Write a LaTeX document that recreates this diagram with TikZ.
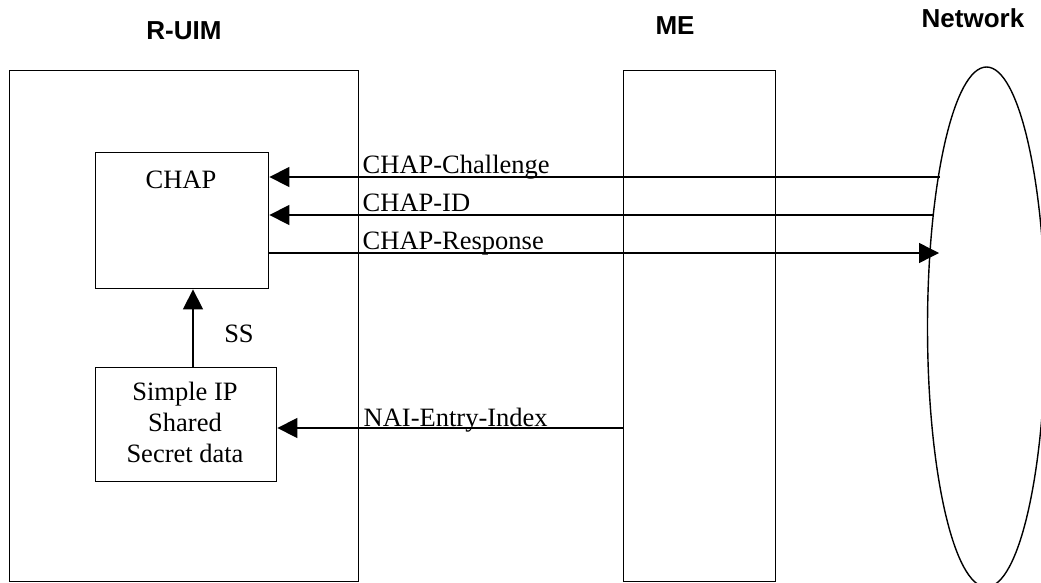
\documentclass[tikz,border=0pt]{standalone}
\usepackage{fontspec}
\setmainfont{Liberation Serif}
\newfontfamily\arialfont{Liberation Sans}
\usetikzlibrary{arrows.meta}
\begin{document}
\begin{tikzpicture}[x=1pt,y=-1pt, line width=1.4pt,
  box/.style={draw, inner sep=0pt, anchor=north west},
  lbl/.style={font=\fontsize{26.5}{31}\selectfont, inner sep=0pt},
  ttl/.style={font=\arialfont\bfseries\fontsize{26}{31}\selectfont, inner sep=0pt, anchor=base},
  arr/.style={-{Triangle[length=20pt,width=20pt]}}]
\useasboundingbox (0,0) rectangle (1041,583);
\clip (0,0) rectangle (1041,583);
% titles
\node[ttl] (truim) at (184,40) {R-UIM};
\node[ttl] (tme) at (675,35) {ME};
\node[ttl] (tnet) at (973,28) {Network};
% main boxes
\node[box, minimum width=349pt, minimum height=511pt] (ruim) at (9,70) {};
\node[box, minimum width=152pt, minimum height=511pt] (me) at (623,70) {};
\coordinate (netc) at (986.5,327);
\draw (netc) ellipse [x radius=59pt, y radius=260pt];
% inner boxes
\node[box, minimum width=173pt, minimum height=136pt] (chap) at (95,152) {};
\node[lbl, anchor=base] (chaptxt) at (181,188) {CHAP};
\node[box, minimum width=181pt, minimum height=114pt] (sip) at (95,367) {};
\node[lbl, anchor=base, align=center] (siptxt) at (185,462.7) {Simple IP\\Shared\\Secret data};
% connector ends
\coordinate (chl) at (940,177);
\coordinate (idr) at (934,215);
\coordinate (rsp) at (939,253);
\coordinate (nai) at (623,428);
\coordinate (ssx) at (193,0);
% connectors
\draw[arr] (chl) -- (chap.east |- chl);
\draw[arr] (idr) -- (chap.east |- idr);
\draw[arr] (chap.east |- rsp) -- (rsp);
\draw[arr] (nai) -- (sip.east |- nai);
\draw[arr] (sip.north -| ssx) -- (chap.south -| ssx);
% labels
\node[lbl, anchor=base west] (lchl) at (362,173) {CHAP-Challenge};
\node[lbl, anchor=base west] (lid) at (362,211) {CHAP-ID};
\node[lbl, anchor=base west] (lrsp) at (362,249) {CHAP-Response};
\node[lbl, anchor=base west] (lnai) at (363,426) {NAI-Entry-Index};
\node[lbl, anchor=base] (lss) at (239,342) {SS};
\end{tikzpicture}
\end{document}
